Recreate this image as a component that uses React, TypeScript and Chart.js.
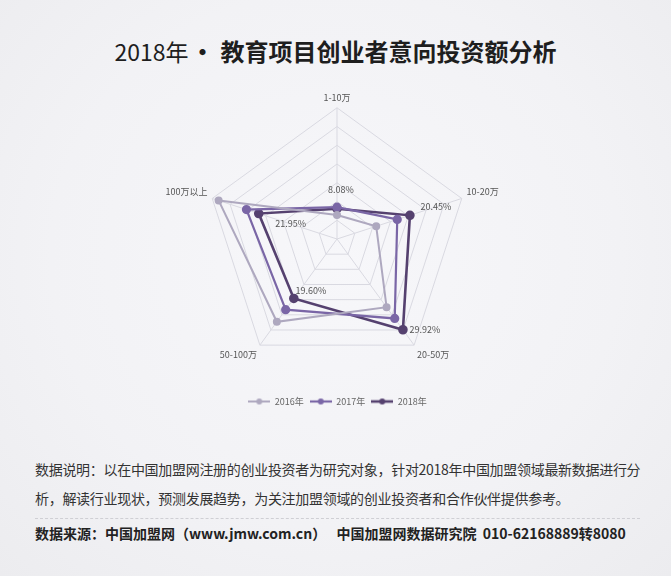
import React, { useEffect, useRef } from "react";
import { Chart, registerables } from "chart.js";
Chart.register(...registerables);

const categories = ["1-10万", "10-20万", "20-50万", "50-100万", "100万以上"];
const seriesNames = ["2016年", "2017年", "2018年"];
const values2016 = [6.4, 11.0, 22.5, 27.3, 33.2];
const values2017 = [8.5, 16.9, 26.2, 23.3, 25.4];
const values2018 = [8.08, 20.45, 29.92, 19.6, 21.95];
const labels2018 = ["8.08%", "20.45%", "29.92%", "19.60%", "21.95%"];
const scaleMax = 35;
const scaleStep = 5;

const colors = ["#aea8bf", "#7a66a6", "#55416f"];
const lineWidths = [2, 2.2, 2.6];
// label offsets relative to each 2018 point (text center)
const labelOffsets: [number, number][] = [[4, -19], [26, -9], [22, 0], [17, -8], [32, 10]];

const FONT = "'Noto Sans CJK SC', 'Noto Sans', sans-serif";

function makeLegendIcon(color: string, lw: number) {
  const c = document.createElement("canvas");
  c.width = 22;
  c.height = 8;
  const ctx = c.getContext("2d")!;
  ctx.strokeStyle = color;
  ctx.lineWidth = lw;
  ctx.beginPath();
  ctx.moveTo(0, 4);
  ctx.lineTo(22, 4);
  ctx.stroke();
  ctx.fillStyle = color;
  ctx.beginPath();
  ctx.arc(11, 4, 3, 0, Math.PI * 2);
  ctx.fill();
  return c;
}

const dataLabelPlugin = {
  id: "dataLabels2018",
  afterDatasetsDraw(chart: any) {
    const meta = chart.getDatasetMeta(2);
    const ctx = chart.ctx;
    ctx.save();
    ctx.font = `9px ${FONT}`;
    ctx.fillStyle = "#555";
    ctx.textAlign = "center";
    ctx.textBaseline = "middle";
    meta.data.forEach((pt: any, i: number) => {
      const [dx, dy] = labelOffsets[i];
      ctx.fillText(labels2018[i], pt.x + dx, pt.y + dy);
    });
    ctx.restore();
  },
};

function RadarChart() {
  const ref = useRef<HTMLCanvasElement>(null);
  useEffect(() => {
    const series = [values2016, values2017, values2018];
    const icons = colors.map((c, i) => makeLegendIcon(c, lineWidths[i]));
    const chart = new Chart(ref.current!, {
      type: "radar",
      data: {
        labels: categories,
        datasets: series.map((vals, i) => ({
          label: seriesNames[i],
          data: vals,
          borderColor: colors[i],
          backgroundColor: colors[i],
          pointBackgroundColor: colors[i],
          pointBorderColor: colors[i],
          borderWidth: lineWidths[i],
          pointRadius: i === 0 ? 3 : 3.5,
          fill: false,
        })),
      },
      options: {
        responsive: false,
        animation: false,
        layout: { padding: { top: 11, bottom: 10, left: 4, right: 0 } },
        scales: {
          r: {
            min: 0,
            max: scaleMax,
            ticks: { stepSize: scaleStep, display: false },
            grid: { color: "#d9d9e1", lineWidth: 1 },
            angleLines: { color: "#d9d9e1", lineWidth: 1 },
            pointLabels: {
              font: { size: 9, family: FONT },
              color: "#555",
              padding: 5,
            },
          },
        },
        plugins: {
          tooltip: { enabled: false },
          legend: {
            position: "bottom",
            title: {
              display: true,
              text: " ",
              font: { size: 5 },
              padding: { top: 0, bottom: 5 },
            },
            labels: {
              usePointStyle: true,
              pointStyleWidth: 22,
              boxHeight: 8,
              padding: 6,
              color: "#666",
              font: { size: 9, family: FONT },
              generateLabels: (ch: any) =>
                ch.data.datasets.map((ds: any, i: number) => ({
                  text: ds.label,
                  pointStyle: icons[i],
                  fillStyle: colors[i],
                  strokeStyle: colors[i],
                  lineWidth: 0,
                  fontColor: "#666",
                  datasetIndex: i,
                  hidden: false,
                })),
            },
          },
        },
      },
      plugins: [dataLabelPlugin],
    });
    return () => chart.destroy();
  }, []);
  return <canvas ref={ref} width={671} height={352} style={{ display: "block" }} />;
}

export default function App() {
  return (
    <div
      style={{
        position: "absolute",
        left: 0,
        top: 0,
        width: 671,
        height: 576,
        overflow: "hidden",
        background: "radial-gradient(ellipse at 50% 45%, #f7f7fa 0%, #f2f2f5 60%, #ececef 100%)",
        fontFamily: FONT,
        color: "#222",
      }}
    >
      <div
        style={{
          position: "absolute",
          top: 36,
          left: 0,
          width: 671,
          textAlign: "center",
          fontSize: 24,
          lineHeight: "30px",
          whiteSpace: "nowrap",
          color: "#1e1e1e",
        }}
      >
        <span style={{ fontWeight: 400, fontSize: 23 }}>2018年</span>
        <span style={{ fontWeight: 700, margin: "0 6px 0 2px" }}>·</span>
        <span style={{ fontWeight: 700 }}>教育项目创业者意向投资额分析</span>
      </div>
      <div style={{ position: "absolute", top: 74, left: 0 }}>
        <RadarChart />
      </div>
      <div
        style={{
          position: "absolute",
          top: 455,
          left: 35,
          fontSize: 14,
          lineHeight: "29px",
          letterSpacing: "-0.3px",
          color: "#333",
          whiteSpace: "nowrap",
        }}
      >
        <div>数据说明：以在中国加盟网注册的创业投资者为研究对象，针对2018年中国加盟领域最新数据进行分</div>
        <div>析，解读行业现状，预测发展趋势，为关注加盟领域的创业投资者和合作伙伴提供参考。</div>
      </div>
      <div
        style={{
          position: "absolute",
          top: 518,
          left: 35,
          width: 605,
          borderTop: "1px dashed #cfcfd4",
        }}
      />
      <div
        style={{
          position: "absolute",
          top: 522,
          left: 35,
          fontSize: 14,
          lineHeight: "22px",
          fontWeight: 700,
          color: "#222",
          whiteSpace: "nowrap",
        }}
      >
        数据来源：中国加盟网（www.jmw.com.cn）　 中国加盟网数据研究院&nbsp;&nbsp;010-62168889转8080
      </div>
    </div>
  );
}
